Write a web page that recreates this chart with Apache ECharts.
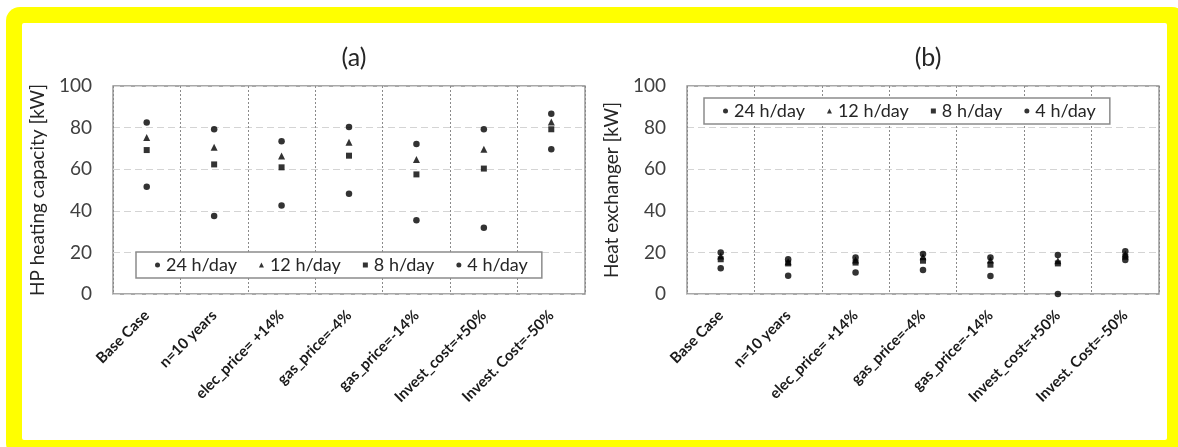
<!DOCTYPE html>
<html>
<head>
<meta charset="utf-8">
<script src="https://cdn.jsdelivr.net/npm/echarts@6/dist/echarts.min.js"></script>
<style>
  html, body { margin: 0; padding: 0; background: #ffffff; }
  #chart { width: 1178px; height: 447px; }
</style>
</head>
<body>
<div id="chart"></div>
<script>
// Sensitivity cases on the category axis
const categories = [
  'Base Case', 'n=10 years', 'elec_price= +14%', 'gas_price=-4%',
  'gas_price=-14%', 'Invest_cost=+50%', 'Invest. Cost=-50%'
];
const seriesNames = ['24 h/day', '12 h/day', '8 h/day', '4 h/day'];
const yTicks = { min: 0, max: 100, interval: 20 };

// (a) HP heating capacity [kW]
const hp24 = [82.4, 79.2, 73.4, 80.3, 72.1, 79.2, 86.7];
const hp12 = [75.3, 70.5, 66.3, 72.9, 64.7, 69.6, 82.7];
const hp8  = [69.2, 62.3, 60.9, 66.5, 57.5, 60.3, 79.2];
const hp4  = [51.6, 37.5, 42.6, 48.2, 35.4, 31.9, 69.6];

// (b) Heat exchanger [kW]
const hx24 = [19.9, 16.7, 17.6, 19.2, 17.5, 18.8, 20.5];
const hx12 = [18.3, 15.5, 16.3, 17.9, 16.3, 16.0, 19.2];
const hx8  = [16.7, 14.7, 15.1, 16.0, 14.1, 14.7, 17.9];
const hx4  = [12.4, 8.8, 10.3, 11.5, 8.7, 0.0, 16.3];

const symbols = ['circle', 'triangle', 'rect', 'circle'];
const symbolSizes = [6.5, 7, 6, 6.5];

const FONT = 'Lato, "Open Sans", sans-serif';
const chart = echarts.init(document.getElementById('chart'), null, { renderer: 'canvas' });

function xAxisFor(gridIndex) {
  return {
    type: 'category', gridIndex, data: categories, boundaryGap: true,
    axisLine: { show: false }, axisTick: { show: false },
    axisLabel: {
      interval: 0, rotate: 45, margin: 19, color: '#1a1a1a',
      fontFamily: FONT, fontSize: 15, fontWeight: 'bold'
    },
    splitLine: { show: true, interval: 0, lineStyle: { color: '#8a8a8a', type: [2, 2], width: 1 } }
  };
}
function yAxisFor(gridIndex, name) {
  return {
    type: 'value', gridIndex, min: yTicks.min, max: yTicks.max, interval: yTicks.interval,
    name, nameLocation: 'middle', nameGap: 66,
    nameTextStyle: { color: '#262626', fontFamily: FONT, fontSize: 19 },
    axisLine: { show: false }, axisTick: { show: false },
    axisLabel: { color: '#404040', fontFamily: FONT, fontSize: 19, margin: 21 },
    splitLine: { show: true, lineStyle: { color: '#d4d4d4', type: [7, 4], width: 1 } }
  };
}
function legendFor(left, top) {
  return {
    left, top, orient: 'horizontal',
    data: seriesNames.map((n, i) => ({ name: n, icon: symbols[i] })),
    itemWidth: 5, itemHeight: 5, itemGap: 22,
    textStyle: { color: '#262626', fontFamily: FONT, fontSize: 18, padding: [0, 0, 0, 1] },
    borderColor: '#8c8c8c', borderWidth: 1.5, backgroundColor: '#ffffff',
    padding: [4, 14, 4, 19], selectedMode: false
  };
}
function scatterSet(gridIndex, arrays) {
  return arrays.map((arr, i) => ({
    name: seriesNames[i], type: 'scatter',
    xAxisIndex: gridIndex, yAxisIndex: gridIndex,
    symbol: symbols[i], symbolSize: symbolSizes[i],
    itemStyle: { color: '#000000' }, data: arr
  }));
}

chart.setOption({
  backgroundColor: '#ffffff',
  animation: false,
  graphic: [
    { type: 'rect', z: -10, shape: { x: 6, y: 7, width: 1180, height: 450, r: 14 }, style: { fill: '#ffff00' } },
    { type: 'rect', z: -9, shape: { x: 22, y: 23, width: 1145, height: 417, r: 2 }, style: { fill: '#ffffff' } }
  ],
  title: [
    { text: '(a)', left: 349, top: 40, textAlign: 'center',
      textStyle: { color: '#262626', fontFamily: FONT, fontSize: 25, fontWeight: 'normal' } },
    { text: '(b)', left: 923, top: 40, textAlign: 'center',
      textStyle: { color: '#262626', fontFamily: FONT, fontSize: 25, fontWeight: 'normal' } }
  ],
  grid: [
    { left: 113, top: 86, width: 472, height: 208, show: true, backgroundColor: 'transparent', borderColor: '#8c8c8c', borderWidth: 1.3 },
    { left: 687, top: 86, width: 472, height: 208, show: true, backgroundColor: 'transparent', borderColor: '#8c8c8c', borderWidth: 1.3 }
  ],
  legend: [legendFor(136, 252), legendFor(704, 98)],
  xAxis: [xAxisFor(0), xAxisFor(1)],
  yAxis: [yAxisFor(0, 'HP heating capacity [kW]'), yAxisFor(1, 'Heat exchanger [kW]')],
  series: [
    ...scatterSet(0, [hp24, hp12, hp8, hp4]),
    ...scatterSet(1, [hx24, hx12, hx8, hx4])
  ]
});
</script>
</body>
</html>
